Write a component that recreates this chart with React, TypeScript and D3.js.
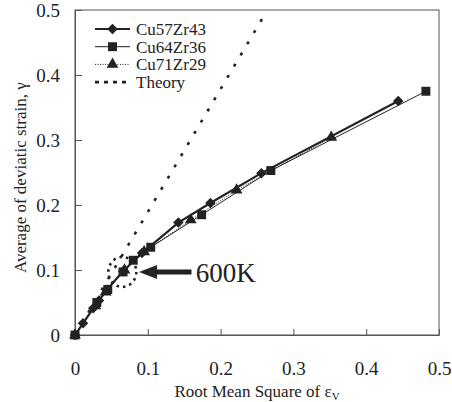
import React, { useEffect, useRef } from 'react';
import * as d3 from 'd3';

// data: [rms of eps_v, average deviatic strain]
const cu57zr43: [number, number][] = [
  [0, 0], [0.011, 0.018], [0.025, 0.041], [0.033, 0.053], [0.044, 0.07],
  [0.066, 0.098], [0.092, 0.126], [0.142, 0.173], [0.186, 0.203],
  [0.256, 0.249], [0.444, 0.36],
];
const cu64zr36: [number, number][] = [
  [0, 0], [0.03, 0.05], [0.045, 0.07], [0.066, 0.097], [0.08, 0.115],
  [0.104, 0.135], [0.174, 0.185], [0.269, 0.253], [0.482, 0.375],
];
const cu71zr29: [number, number][] = [
  [0, 0], [0.028, 0.045], [0.042, 0.066], [0.068, 0.1], [0.095, 0.128],
  [0.159, 0.177], [0.222, 0.223], [0.352, 0.304],
];
const theory: [number, number][] = [[0, 0], [0.259, 0.49]];

const xTicks = [0, 0.1, 0.2, 0.3, 0.4, 0.5];
const yTicks = [0, 0.1, 0.2, 0.3, 0.4, 0.5];
const legendNames = ['Cu57Zr43', 'Cu64Zr36', 'Cu71Zr29', 'Theory'];

const W = 452;
const H = 402;
const FONT = "'Liberation Serif', 'Times New Roman', Times, 'DejaVu Serif', serif";

export default function App() {
  const ref = useRef<SVGSVGElement | null>(null);

  useEffect(() => {
    if (!ref.current) return;
    const svg = d3.select(ref.current);
    svg.selectAll('*').remove();

    const margin = { top: 10, right: 13, bottom: 67, left: 75 };
    const x = d3.scaleLinear().domain([0, 0.5]).range([margin.left, W - margin.right]);
    const y = d3.scaleLinear().domain([0, 0.5]).range([H - margin.bottom, margin.top]);

    // frame
    svg.append('rect')
      .attr('x', margin.left).attr('y', margin.top)
      .attr('width', x(0.5) - x(0)).attr('height', y(0) - y(0.5))
      .attr('fill', 'none').attr('stroke', '#555').attr('stroke-width', 1);

    // axes with inward ticks
    const xAxis = svg.append('g')
      .attr('transform', `translate(0, ${y(0)})`)
      .call(d3.axisBottom(x).tickValues(xTicks).tickSizeInner(-6).tickSizeOuter(0).tickPadding(27)
        .tickFormat(d => String(d)));
    xAxis.select('.domain').attr('stroke', '#555');
    xAxis.selectAll('line').attr('stroke', '#555');
    xAxis.selectAll('text').attr('font-family', FONT).attr('font-size', 19).attr('fill', '#222');

    const yAxis = svg.append('g')
      .attr('transform', `translate(${margin.left}, 0)`)
      .call(d3.axisLeft(y).tickValues(yTicks).tickSizeInner(-7).tickSizeOuter(0).tickPadding(15)
        .tickFormat(d => String(d)));
    yAxis.select('.domain').attr('stroke', '#555');
    yAxis.selectAll('line').attr('stroke', '#555');
    yAxis.selectAll('text').attr('font-family', FONT).attr('font-size', 19).attr('fill', '#222');

    // axis titles
    const xt = svg.append('text')
      .attr('x', x(0.25)).attr('y', 397)
      .attr('text-anchor', 'middle')
      .attr('font-family', FONT).attr('font-size', 17).attr('fill', '#222');
    xt.append('tspan').text('Root Mean Square of ε');
    xt.append('tspan').attr('font-size', 11).attr('dy', 3).text('V');

    svg.append('text')
      .attr('transform', `translate(26, ${y(0.242)}) rotate(-90)`)
      .attr('text-anchor', 'middle')
      .attr('font-family', FONT).attr('font-size', 17).attr('fill', '#222')
      .text('Average of deviatic strain, γ');

    const line = d3.line<[number, number]>().x(d => x(d[0])).y(d => y(d[1]));

    // theory
    svg.append('path').datum(theory)
      .attr('d', line).attr('fill', 'none')
      .attr('stroke', '#222').attr('stroke-width', 2.6).attr('stroke-dasharray', '3,10');

    const diamond = d3.symbol().type(d3.symbolDiamond2).size(70);
    const square = d3.symbol().type(d3.symbolSquare).size(80);
    const triangle = d3.symbol().type(d3.symbolTriangle).size(60);

    const series = [
      { data: cu71zr29, sym: triangle, width: 1, dash: '1,1.5' },
      { data: cu64zr36, sym: square, width: 1, dash: null },
      { data: cu57zr43, sym: diamond, width: 2.2, dash: null },
    ];
    series.forEach(s => {
      svg.append('path').datum(s.data)
        .attr('d', line).attr('fill', 'none')
        .attr('stroke', '#222').attr('stroke-width', s.width)
        .attr('stroke-dasharray', s.dash);
      svg.append('g').selectAll('path')
        .data(s.data)
        .join('path')
        .attr('transform', d => `translate(${x(d[0])}, ${y(d[1])})`)
        .attr('d', s.sym)
        .attr('fill', '#222');
    });

    // 600K annotation
    svg.append('ellipse')
      .attr('cx', x(0.065)).attr('cy', y(0.097))
      .attr('rx', 14).attr('ry', 15)
      .attr('fill', 'none').attr('stroke', '#222').attr('stroke-width', 2.6)
      .attr('stroke-dasharray', '2.5,4');

    const ax0 = x(0.16);
    const ax1 = x(0.088);
    const ay = y(0.097);
    svg.append('line')
      .attr('x1', ax0).attr('y1', ay).attr('x2', ax1 + 16).attr('y2', ay)
      .attr('stroke', '#222').attr('stroke-width', 5);
    svg.append('path')
      .attr('d', `M${ax1},${ay} L${ax1 + 18},${ay - 7} L${ax1 + 18},${ay + 7} Z`)
      .attr('fill', '#222');
    svg.append('text')
      .attr('x', x(0.166)).attr('y', ay + 10)
      .attr('font-family', FONT).attr('font-size', 27).attr('fill', '#222')
      .text('600K');

    // legend
    const leg = svg.append('g').attr('transform', 'translate(95, 29)');
    const legSyms = [diamond, square, triangle, null];
    const legWidths = [2.2, 1, 1, 2.6];
    const legDash = [null, null, '1,1.5', '4,5'];
    legendNames.forEach((name, i) => {
      const g = leg.append('g').attr('transform', `translate(0, ${i * 17.7})`);
      g.append('line')
        .attr('x1', 0).attr('x2', 35).attr('y1', 0).attr('y2', 0)
        .attr('stroke', '#222').attr('stroke-width', legWidths[i])
        .attr('stroke-dasharray', legDash[i]);
      const sym = legSyms[i];
      if (sym) {
        g.append('path').attr('transform', 'translate(17.5, 0)').attr('d', sym).attr('fill', '#222');
      }
      g.append('text')
        .attr('x', 41).attr('y', 6)
        .attr('font-family', FONT).attr('font-size', 17).attr('fill', '#222')
        .text(name);
    });
  }, []);

  return (
    <svg
      ref={ref}
      width={W}
      height={H}
      style={{ position: 'absolute', left: 0, top: 0, background: '#fff' }}
    />
  );
}
